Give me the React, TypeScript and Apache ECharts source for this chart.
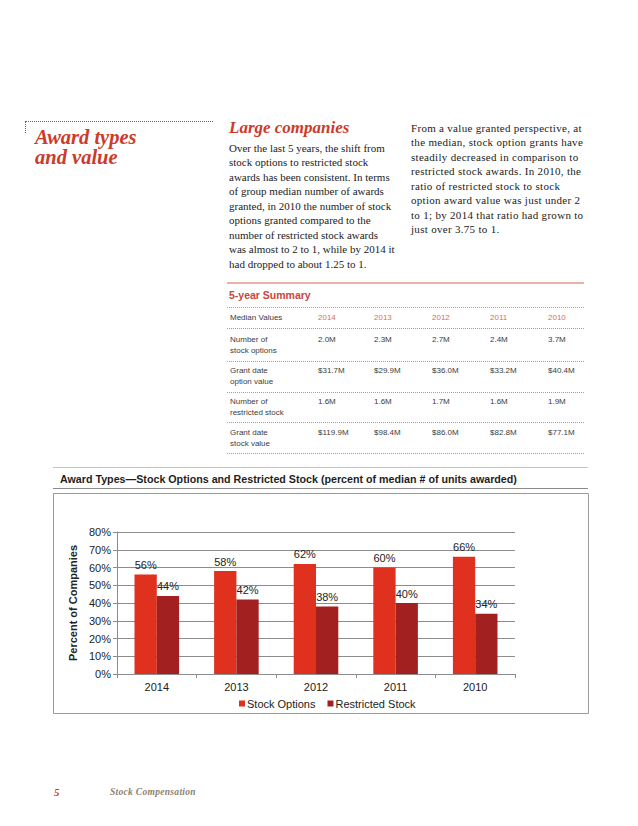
import { useEffect, useRef } from 'react';
import * as echarts from 'echarts';

// chart data
const years = ['2014', '2013', '2012', '2011', '2010'];
const stockOptions = [56, 58, 62, 60, 66];
const restrictedStock = [44, 42, 38, 40, 34];

// 5-year summary table
const tableHeader = ['Median Values', '2014', '2013', '2012', '2011', '2010'];
const rowLabels = [
  ['Number of', 'stock options'],
  ['Grant date', 'option value'],
  ['Number of', 'restricted stock'],
  ['Grant date', 'stock value'],
];
const rowValues = [
  ['2.0M', '2.3M', '2.7M', '2.4M', '3.7M'],
  ['$31.7M', '$29.9M', '$36.0M', '$33.2M', '$40.4M'],
  ['1.6M', '1.6M', '1.7M', '1.6M', '1.9M'],
  ['$119.9M', '$98.4M', '$86.0M', '$82.8M', '$77.1M'],
];

const middleLines = [
  'Over the last 5 years, the shift from',
  'stock options to restricted stock',
  'awards has been consistent. In terms',
  'of group median number of awards',
  'granted, in 2010 the number of stock',
  'options granted compared to the',
  'number of restricted stock awards',
  'was almost to 2 to 1, while by 2014 it',
  'had dropped to about 1.25 to 1.',
];
const rightLines = [
  'From a value granted perspective, at',
  'the median, stock option grants have',
  'steadily decreased in comparison to',
  'restricted stock awards. In 2010, the',
  'ratio of restricted stock to stock',
  'option award value was just under 2',
  'to 1; by 2014 that ratio had grown to',
  'just over 3.75 to 1.',
];

const RED = '#cc3a29';
const SERIF = '"Liberation Serif", "DejaVu Serif", serif';
const SANS = '"Liberation Sans", Arial, sans-serif';

function Line({ x, y, h, children, style }: any) {
  return (
    <div
      style={{
        position: 'absolute',
        left: x,
        top: y - h / 2,
        lineHeight: h + 'px',
        whiteSpace: 'nowrap',
        ...style,
      }}
    >
      {children}
    </div>
  );
}

function AwardChart() {
  const chartRef = useRef(null);

  useEffect(() => {
    const myChart = echarts.init(chartRef.current, null, { renderer: 'svg' });

    const option = {
      animation: false,
      textStyle: { fontFamily: SANS },
      graphic: [
        {
          type: 'line',
          shape: { x1: 13, y1: 12.5, x2: 548, y2: 12.5 },
          style: { stroke: '#c4c4c4', lineWidth: 1 },
        },
        {
          type: 'text',
          left: 20,
          top: 18,
          style: {
            text: 'Award Types\u2014Stock Options and Restricted Stock (percent of median # of units awarded)',
            font: 'bold 10.7px "Liberation Sans", Arial, sans-serif',
            fill: '#1e1e1e',
          },
        },
        {
          type: 'line',
          shape: { x1: 13, y1: 33.5, x2: 548, y2: 33.5 },
          style: { stroke: '#8c8c8c', lineWidth: 1 },
        },
        {
          type: 'rect',
          shape: { x: 13.5, y: 38.5, width: 535, height: 220 },
          style: { fill: 'none', stroke: '#9a9a9a', lineWidth: 1 },
        },
      ],
      legend: {
        top: 238,
        left: 194,
        icon: 'rect',
        itemWidth: 6,
        itemHeight: 6,
        itemGap: 12,
        textStyle: { fontSize: 11, color: '#222', padding: [0, 0, 0, -3] },
        data: ['Stock Options', 'Restricted Stock'],
      },
      grid: { left: 77, right: 85, top: 77, bottom: 51 },
      xAxis: [
        {
          type: 'category',
          data: years,
          axisLine: { lineStyle: { color: '#8c8c8c' } },
          axisTick: { show: true, length: 4, lineStyle: { color: '#8c8c8c' } },
          axisLabel: { fontSize: 11, color: '#222', margin: 7 },
        },
      ],
      yAxis: [
        {
          type: 'value',
          min: 0,
          max: 80,
          interval: 10,
          name: 'Percent of Companies',
          nameLocation: 'middle',
          nameGap: 38,
          nameTextStyle: { fontSize: 11, fontWeight: 'bold', color: '#222' },
          axisLine: { show: true, lineStyle: { color: '#8c8c8c' } },
          axisTick: { show: true, length: 4, lineStyle: { color: '#8c8c8c' } },
          axisLabel: { fontSize: 11, color: '#222', margin: 6, formatter: '{value}%' },
          splitLine: { lineStyle: { color: '#8c8c8c' } },
        },
      ],
      series: [
        {
          name: 'Stock Options',
          type: 'bar',
          barGap: '0%',
          barCategoryGap: '44%',
          itemStyle: { color: '#e0301e' },
          label: { show: true, position: 'top', distance: 4, fontSize: 11, color: '#222', formatter: '{c}%' },
          data: stockOptions,
        },
        {
          name: 'Restricted Stock',
          type: 'bar',
          itemStyle: { color: '#a32020' },
          label: { show: true, position: 'top', distance: 4, fontSize: 11, color: '#222', formatter: '{c}%' },
          data: restrictedStock,
        },
      ],
    };

    myChart.setOption(option);

    return () => {
      myChart.dispose();
    };
  }, []);

  return (
    <div
      ref={chartRef}
      style={{ position: 'absolute', left: 40, top: 455, width: 560, height: 270 }}
    ></div>
  );
}

function App() {
  const colX = [230, 318, 374, 432, 490, 548];
  const rowY = [340, 371, 402, 433];
  const dotLines = [307, 328, 361, 392, 422, 453];
  const small = { fontFamily: SANS, fontSize: 8, color: '#3c3c3c' };
  const body = { fontFamily: SERIF, fontSize: 11, color: '#222' };
  const lh = 14.5;

  return (
    <div
      style={{
        position: 'absolute',
        left: 0,
        top: 0,
        width: 638,
        height: 826,
        background: '#fff',
        overflow: 'hidden',
      }}
    >
      {/* section heading */}
      <div style={{ position: 'absolute', left: 25, top: 121, width: 188, borderTop: '1px dotted ' + RED }} />
      <div style={{ position: 'absolute', left: 25, top: 121, height: 12, borderLeft: '1px dotted ' + RED }} />
      {['Award types', 'and value'].map((t, i) => (
        <Line key={t} x={35} y={137 + i * 20} h={17}
          style={{ fontFamily: SERIF, fontSize: 20.5, fontWeight: 'bold', fontStyle: 'italic', color: RED }}>
          {t}
        </Line>
      ))}

      <Line x={229} y={128} h={18}
        style={{ fontFamily: SERIF, fontSize: 17, fontWeight: 'bold', fontStyle: 'italic', color: RED }}>
        Large companies
      </Line>
      {middleLines.map((t, i) => (
        <Line key={i} x={229} y={148 + i * lh} h={lh} style={body}>
          {t}
        </Line>
      ))}
      {rightLines.map((t, i) => (
        <Line key={i} x={411} y={128 + i * lh} h={lh} style={{ ...body, letterSpacing: 0.3 }}>
          {t}
        </Line>
      ))}

      {/* 5-year summary */}
      <div style={{ position: 'absolute', left: 227, top: 282, width: 357, borderTop: '2px solid #eab2a6' }} />
      <Line x={229} y={295} h={14}
        style={{ fontFamily: SANS, fontSize: 10.5, fontWeight: 'bold', color: '#c9463a' }}>
        5-year Summary
      </Line>
      {dotLines.map((y) => (
        <div key={y} style={{ position: 'absolute', left: 227, top: y, width: 357, borderTop: '1px dotted #d98a7e' }} />
      ))}
      {tableHeader.map((t, i) => (
        <Line key={t} x={colX[i]} y={318} h={10}
          style={{ ...small, color: i === 0 ? '#3c3c3c' : '#d4715c' }}>
          {t}
        </Line>
      ))}
      {rowLabels.map((lines, r) => (
        <div key={r}>
          {lines.map((t, k) => (
            <Line key={k} x={colX[0]} y={rowY[r] + k * 10.5} h={10} style={small}>
              {t}
            </Line>
          ))}
          {rowValues[r].map((v, c) => (
            <Line key={c} x={colX[c + 1]} y={rowY[r]} h={10} style={small}>
              {v}
            </Line>
          ))}
        </div>
      ))}

      <AwardChart />

      {/* footer */}
      <Line x={54} y={792} h={12}
        style={{ fontFamily: SERIF, fontSize: 11, fontWeight: 'bold', fontStyle: 'italic', color: RED }}>
        5
      </Line>
      <Line x={110} y={792} h={12}
        style={{ fontFamily: SERIF, fontSize: 9.5, fontWeight: 'bold', fontStyle: 'italic', color: '#8a8272', letterSpacing: 0.3 }}>
        Stock Compensation
      </Line>
    </div>
  );
}

export default App;
